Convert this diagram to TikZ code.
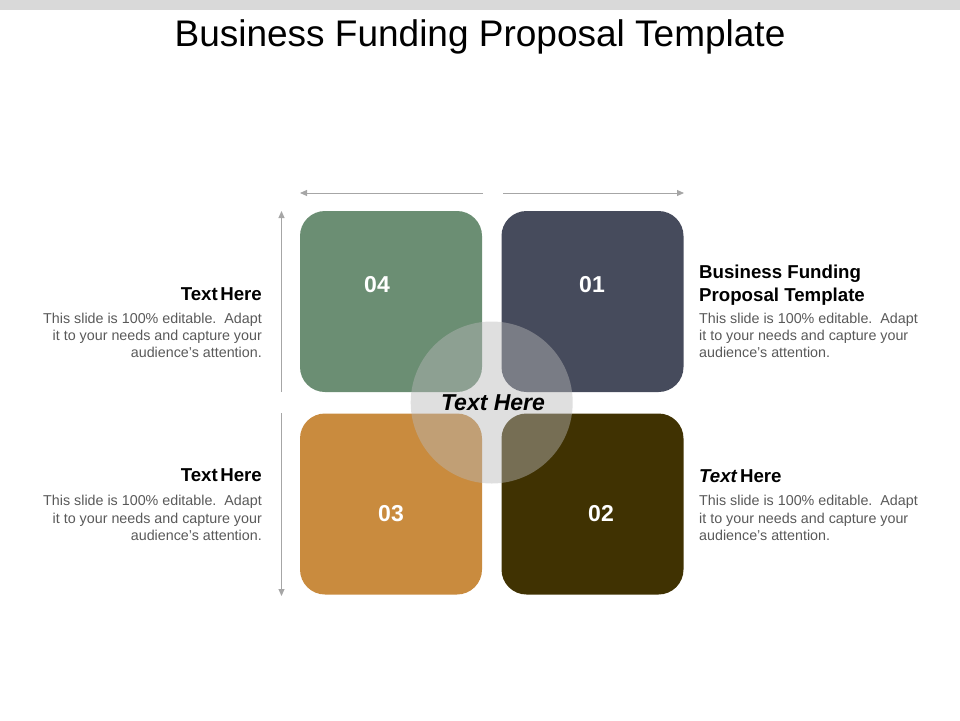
\documentclass[tikz,border=0pt]{standalone}
\usepackage{fontspec}
\setmainfont{Liberation Sans}
\usetikzlibrary{arrows.meta}
\definecolor{topbar}{RGB}{217,217,217}
\definecolor{boxgreen}{RGB}{107,142,115}
\definecolor{boxslate}{RGB}{70,75,92}
\definecolor{boxorange}{RGB}{201,139,62}
\definecolor{boxbrown}{RGB}{64,50,2}
\definecolor{circgray}{RGB}{184,184,184}
\definecolor{arrgray}{RGB}{166,166,166}
\definecolor{bodygray}{RGB}{89,89,89}
\tikzset{
  quad/.style={rectangle, rounded corners=25pt, minimum width=182pt, minimum height=181pt, inner sep=0pt, draw=none},
  numtxt/.style={text=white, font=\fontsize{23}{26}\selectfont\bfseries, inner sep=0pt, anchor=base},
  arr/.style={draw=arrgray, line width=1pt, -{Triangle[length=7pt,width=6pt]}},
  headl/.style={font=\fontsize{18.67}{23.3}\selectfont\bfseries, text=black, inner sep=0pt, align=right, anchor=base east},
  headr/.style={font=\fontsize{18.67}{23.3}\selectfont\bfseries, text=black, inner sep=0pt, align=left, anchor=base west},
  bodyl/.style={font=\fontsize{14.3}{17.3}\selectfont, text=bodygray, inner sep=0pt, align=right, anchor=base east},
  bodyr/.style={font=\fontsize{14.3}{17.3}\selectfont, text=bodygray, inner sep=0pt, align=left, anchor=base west}
}
\begin{document}
\begin{tikzpicture}[x=1pt,y=-1pt]
\useasboundingbox (0,0) rectangle (960,720);
\fill[topbar] (0,0) rectangle (960,10);
\node[font=\fontsize{37}{40}\selectfont, anchor=base, inner sep=0pt] (title) at (480,46) {Business Funding Proposal Template};
% boxes
\node[quad, fill=boxgreen] (b04) at (391,301.5) {};
\node[quad, fill=boxslate] (b01) at (592.5,301.5) {};
\node[quad, fill=boxorange] (b03) at (391,504) {};
\node[quad, fill=boxbrown] (b02) at (592.5,504) {};
\node[numtxt] (n04) at (377,292.5) {04};
\node[numtxt] (n01) at (592,292.5) {01};
\node[numtxt] (n03) at (391,521.5) {03};
\node[numtxt] (n02) at (601,521.5) {02};
% centre circle
\node[circle, minimum size=162pt, inner sep=0pt, fill=circgray, fill opacity=0.45, draw=none] (circ) at (491.7,402.5) {};
\node[font=\fontsize{23}{26}\selectfont\bfseries\itshape, anchor=base, inner sep=0pt] (ctext) at (493,410) {Text Here};
% arrows
\coordinate (a1s) at (483,193);
\coordinate (a1e) at (300,193);
\coordinate (a2s) at (503,193);
\coordinate (a2e) at (684,193);
\coordinate (a3s) at (281.5,392);
\coordinate (a3e) at (281.5,211);
\coordinate (a4s) at (281.5,413);
\coordinate (a4e) at (281.5,596);
\draw[arr] (a1s) -- (a1e);
\draw[arr] (a2s) -- (a2e);
\draw[arr] (a3s) -- (a3e);
\draw[arr] (a4s) -- (a4e);
% left texts (multi-line nodes: base = last line's baseline)
\node[headl] (hl1) at (262,300.7) {Text\hspace{2.5pt}Here};
\node[bodyl] (tl1) at (262,357.6) {This slide is 100\% editable.\ \ Adapt\\it to your needs and capture your\\audience's attention.};
\node[headl] (hl2) at (262,481.5) {Text\hspace{2.5pt}Here};
\node[bodyl] (tl2) at (262,540.3) {This slide is 100\% editable.\ \ Adapt\\it to your needs and capture your\\audience's attention.};
% right texts
\node[headr] (hr1) at (699,301.5) {Business Funding\\Proposal Template};
\node[bodyr] (tr1) at (699,357.6) {This slide is 100\% editable.\ \ Adapt\\it to your needs and capture your\\audience's attention.};
\node[headr] (hr2) at (699,482) {\textit{Text}\hspace{2.5pt}Here};
\node[bodyr] (tr2) at (699,540.3) {This slide is 100\% editable.\ \ Adapt\\it to your needs and capture your\\audience's attention.};
\end{tikzpicture}
\end{document}
